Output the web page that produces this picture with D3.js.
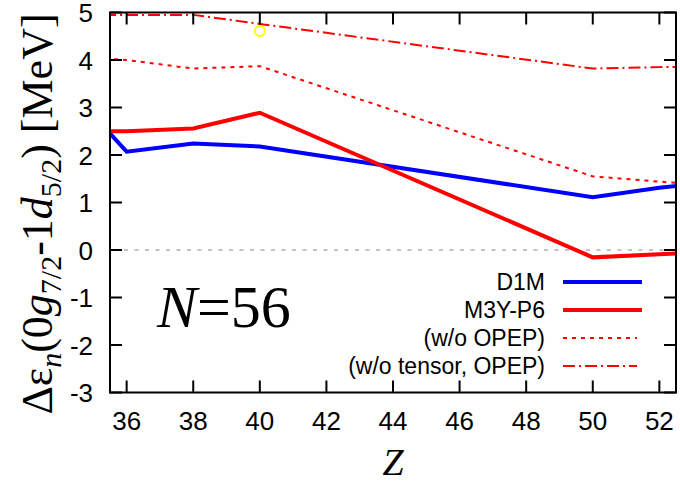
<!DOCTYPE html>
<html>
<head>
<meta charset="utf-8">
<script src="https://cdn.jsdelivr.net/npm/d3@7"></script>
<style>
  body { margin: 0; background: #fff; }
  svg { display: block; }
  .tick-label { font-family: "Liberation Sans", Arial, sans-serif; font-size: 26px; fill: #000; }
  .legend-label { font-family: "Liberation Sans", Arial, sans-serif; font-size: 23px; fill: #000; }
  .serif { font-family: "Liberation Serif", "Times New Roman", serif; fill: #000; }
</style>
</head>
<body>
<svg width="680" height="483"></svg>
<script>
// values (Z = proton number, N = 56)
var zD1M = [34, 36, 38, 40, 50, 52, 54]
var d1m = [3.6, 2.07, 2.24, 2.18, 1.11, 1.31, 1.46]

var zM3Y = [34, 36, 38, 40, 50, 52, 54]
var m3y = [2.49, 2.50, 2.56, 2.89, -0.155, -0.09, -0.03]

var zNoOpep = [34, 36, 38, 40, 50, 52, 54]
var noOpep = [4.08, 4.0, 3.82, 3.87, 1.55, 1.44, 1.33]

var zNoTensor = [34, 36, 38, 40, 50, 52, 54]
var noTensor = [4.95, 4.95, 4.95, 4.76, 3.82, 3.85, 3.86]

var markZ = [40]
var markVal = [4.61]

var xTicks = [36, 38, 40, 42, 44, 46, 48, 50, 52]
var yTicks = [-3, -2, -1, 0, 1, 2, 3, 4, 5]

var legendNames = ["D1M", "M3Y-P6", "(w/o OPEP)", "(w/o tensor, OPEP)"]

var svg = d3.select("svg")

var plotL = 110, plotR = 676, plotT = 12.5, plotB = 392.5

var x = d3.scaleLinear().domain([35.5, 52.5]).range([plotL, plotR])
var y = d3.scaleLinear().domain([-3, 5]).range([plotB, plotT])

svg.append("clipPath").attr("id", "plotclip")
    .append("rect")
    .attr("x", plotL).attr("y", plotT)
    .attr("width", plotR - plotL).attr("height", plotB - plotT)

// zero line
svg.append("line")
    .attr("x1", plotL + 14).attr("x2", plotR)
    .attr("y1", y(0)).attr("y2", y(0))
    .attr("stroke", "#888").attr("stroke-width", 1.2)
    .attr("stroke-dasharray", "4,6.5")

var series = [
    {z: zD1M, v: d1m, color: "#0000ff", width: 4, dash: null},
    {z: zM3Y, v: m3y, color: "#ff0000", width: 4, dash: null},
    {z: zNoOpep, v: noOpep, color: "#ff0000", width: 2, dash: "4,5"},
    {z: zNoTensor, v: noTensor, color: "#ff0000", width: 2, dash: "12,4,2,4"}
]

var plot = svg.append("g").attr("clip-path", "url(#plotclip)")

var valueLine = d3.line()
    .x(function(d){ return x(d[0]) })
    .y(function(d){ return y(d[1]) })

series.forEach(function(s){
    var pts = s.z.map(function(z, i){ return [z, s.v[i]] })
    plot.append("path")
        .datum(pts)
        .attr("fill", "none")
        .attr("stroke", s.color)
        .attr("stroke-width", s.width)
        .attr("stroke-dasharray", s.dash)
        .attr("d", valueLine)
})

// yellow open circle
plot.selectAll("circle.mark")
    .data(markZ)
    .enter().append("circle")
    .attr("class", "mark")
    .attr("cx", function(d){ return x(d) })
    .attr("cy", function(d, i){ return y(markVal[i]) })
    .attr("r", 5)
    .attr("fill", "none")
    .attr("stroke", "#ffff00")
    .attr("stroke-width", 2)

// axes: frame with inward ticks on all four sides
var frame = svg.append("g")
frame.append("rect")
    .attr("x", plotL).attr("y", plotT)
    .attr("width", plotR - plotL).attr("height", plotB - plotT)
    .attr("fill", "none").attr("stroke", "#000").attr("stroke-width", 2)

var tickLen = 12
xTicks.forEach(function(t){
    frame.append("line").attr("x1", x(t)).attr("x2", x(t))
        .attr("y1", plotB).attr("y2", plotB - tickLen)
        .attr("stroke", "#000").attr("stroke-width", 2)
    frame.append("line").attr("x1", x(t)).attr("x2", x(t))
        .attr("y1", plotT).attr("y2", plotT + tickLen)
        .attr("stroke", "#000").attr("stroke-width", 2)
    svg.append("text").attr("class", "tick-label")
        .attr("x", x(t)).attr("y", 430)
        .attr("text-anchor", "middle")
        .text(t)
})
yTicks.forEach(function(t){
    frame.append("line").attr("x1", plotL).attr("x2", plotL + tickLen)
        .attr("y1", y(t)).attr("y2", y(t))
        .attr("stroke", "#000").attr("stroke-width", 2)
    frame.append("line").attr("x1", plotR).attr("x2", plotR - tickLen)
        .attr("y1", y(t)).attr("y2", y(t))
        .attr("stroke", "#000").attr("stroke-width", 2)
    svg.append("text").attr("class", "tick-label")
        .attr("x", 93).attr("y", y(t) + 9.5)
        .attr("text-anchor", "end")
        .text(t)
})

// legend
var legend = svg.append("g")
legendNames.forEach(function(name, i){
    var ly = 282 + i * 28
    legend.append("text").attr("class", "legend-label")
        .attr("x", 545).attr("y", ly + 8)
        .attr("text-anchor", "end")
        .text(name)
    legend.append("line")
        .attr("x1", 563).attr("x2", i < 2 ? 642 : 637)
        .attr("y1", ly).attr("y2", ly)
        .attr("stroke", series[i].color)
        .attr("stroke-width", series[i].width)
        .attr("stroke-dasharray", series[i].dash)
})

// N=56 label
var nLabel = svg.append("text").attr("class", "serif")
    .attr("x", 157).attr("y", 327)
    .style("font-size", "60px")
nLabel.append("tspan").style("font-style", "italic").text("N")
nLabel.append("tspan").text("=56")

// x axis title
svg.append("text").attr("class", "serif")
    .attr("x", (plotL + plotR) / 2).attr("y", 475)
    .attr("text-anchor", "middle")
    .style("font-size", "38px").style("font-style", "italic")
    .text("Z")

// y axis title
var yl = svg.append("text").attr("class", "serif")
    .attr("transform", "translate(52,214) rotate(-90)")
    .attr("text-anchor", "middle")
    .style("font-size", "44px")
yl.append("tspan").text("\u0394\u03b5")
yl.append("tspan").style("font-style", "italic").style("font-size", "30px").attr("dy", 9).text("n")
yl.append("tspan").attr("dy", -9).text("(0")
yl.append("tspan").style("font-style", "italic").text("g")
yl.append("tspan").style("font-size", "30px").attr("dy", 9).text("7/2")
yl.append("tspan").attr("dy", -9).text("-1")
yl.append("tspan").style("font-style", "italic").text("d")
yl.append("tspan").style("font-size", "30px").attr("dy", 9).text("5/2")
yl.append("tspan").attr("dy", -9).text(") [MeV]")
</script>
</body>
</html>
